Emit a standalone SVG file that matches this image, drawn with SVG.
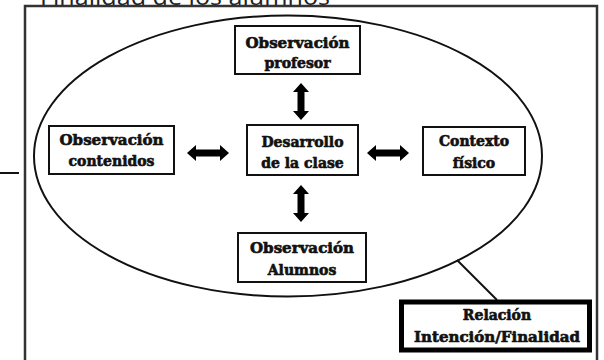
<svg xmlns="http://www.w3.org/2000/svg" width="604" height="360" viewBox="0 0 604 360">
<style>
.box{fill:#fff;stroke:#111;stroke-width:2}
.lbl{font-family:"DejaVu Serif",serif;font-weight:bold;font-size:14px;fill:#111;stroke:#111;stroke-width:0.6;text-anchor:middle}
.arr{fill:#000}
.ln{stroke:#111;stroke-width:2;fill:none}
</style>
<rect width="604" height="360" fill="#fff"/>
<text x="40" y="5" font-family="'Open Sans',sans-serif" font-size="24" fill="#222" textLength="290" lengthAdjust="spacingAndGlyphs">Finalidad de los alumnos</text>
<rect x="25" y="6" width="572" height="400" fill="none" stroke="#333" stroke-width="2.5"/>
<line x1="0" y1="173" x2="19" y2="173" class="ln"/>
<ellipse cx="288" cy="156" rx="254" ry="140.5" class="ln"/>
<g id="connectors">
<polygon class="arr" points="301,83 309,92 304.5,92 304.5,111 309,111 301,120 293,111 297.5,111 297.5,92 293,92"/>
<polygon class="arr" points="301,185 309,194 304.5,194 304.5,213 309,213 301,222 293,213 297.5,213 297.5,194 293,194"/>
<polygon class="arr" points="187,153 196,145 196,149.5 220,149.5 220,145 229,153 220,161 220,156.5 196,156.5 196,161"/>
<polygon class="arr" points="367,153 376,145 376,149.5 400,149.5 400,145 409,153 400,161 400,156.5 376,156.5 376,161"/>
<line x1="457" y1="260" x2="497" y2="300" class="ln"/>
</g>
<g id="profesor">
<rect class="box" x="235" y="26" width="125" height="48"/>
<text class="lbl" x="297.5" y="48" textLength="104" lengthAdjust="spacingAndGlyphs">Observación</text>
<text class="lbl" x="297.5" y="68">profesor</text>
</g>
<g id="contenidos">
<rect class="box" x="49" y="126" width="125" height="48"/>
<text class="lbl" x="111.5" y="145" textLength="104" lengthAdjust="spacingAndGlyphs">Observación</text>
<text class="lbl" x="111.5" y="166">contenidos</text>
</g>
<g id="desarrollo">
<rect class="box" x="247" y="125" width="111" height="50"/>
<text class="lbl" x="302.5" y="147">Desarrollo</text>
<text class="lbl" x="302.5" y="168">de la clase</text>
</g>
<g id="contexto">
<rect class="box" x="423" y="127" width="102" height="48"/>
<text class="lbl" x="474" y="146">Contexto</text>
<text class="lbl" x="474" y="168">físico</text>
</g>
<g id="alumnos">
<rect class="box" x="238" y="233" width="128" height="49"/>
<text class="lbl" x="302" y="253" textLength="104" lengthAdjust="spacingAndGlyphs">Observación</text>
<text class="lbl" x="302" y="275">Alumnos</text>
</g>
<g id="relacion">
<rect x="401.5" y="302" width="188" height="48" fill="#fff" stroke="#000" stroke-width="5"/>
<text class="lbl" x="497" y="320">Relación</text>
<text class="lbl" x="497" y="342" textLength="166" lengthAdjust="spacingAndGlyphs">Intención/Finalidad</text>
</g>
</svg>
